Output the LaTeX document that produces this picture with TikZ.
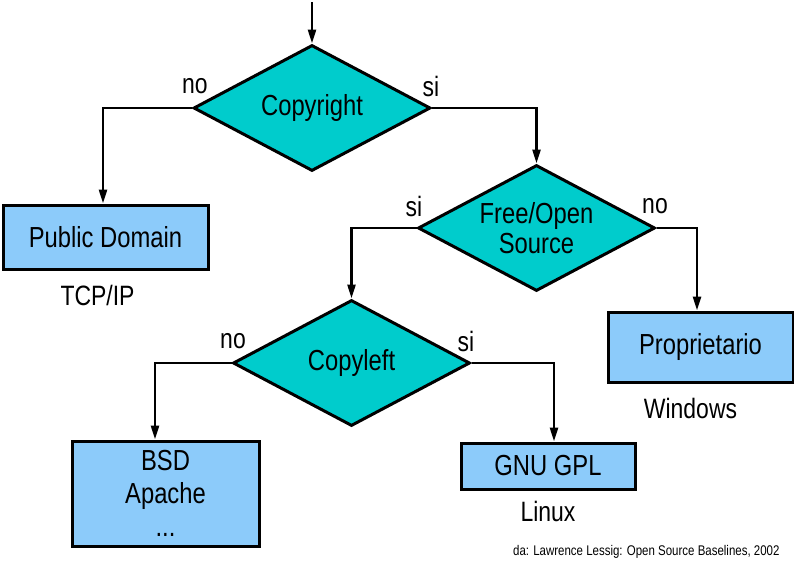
\documentclass[tikz,border=0pt]{standalone}
\usepackage{fontspec}
\setmainfont{Liberation Sans}[FakeStretch=0.82]
\usetikzlibrary{arrows.meta,positioning,shapes.geometric}
\definecolor{DecisionCyan}{HTML}{00CCCC}
\definecolor{LicenceBlue}{HTML}{8CCBFA}

\begin{document}
\begin{tikzpicture}[x=1pt,y=-1pt,
        every node/.style={font=\fontsize{28}{30}\selectfont},
        choice/.style={diamond,draw,fill=DecisionCyan,line width=3pt,inner sep=0pt,minimum width=237pt,minimum height=126pt,aspect=1.88,align=center,font=\fontsize{29}{30}\selectfont},
        licence/.style={draw,fill=LicenceBlue,line width=3pt,inner sep=0pt,align=center,font=\fontsize{29}{33}\selectfont},
        branch/.style={-{Triangle[length=14pt,width=8pt]},line width=2.5pt}
      ]
        \useasboundingbox (0,0) rectangle (794,565);
        % decisions
        \node[choice] (copyright) at (312,108) {Copyright};
        \node[choice] (freeopen) at (536.5,228) {Free/Open\\Source};
        \node[choice] (copyleft) at (351.5,363) {Copyleft};
        % licences
        \node[licence,minimum width=205pt,minimum height=64pt] (public) at (105.5,237) {Public Domain};
        \node[licence,minimum width=185pt,minimum height=70pt] (propr) at (700.5,347) {Proprietario};
        \node[licence,minimum width=187pt,minimum height=105pt] (bsd) at (165.5,493.5) {BSD\\Apache\\...};
        \node[licence,minimum width=174pt,minimum height=46pt] (gpl) at (548,466) {GNU GPL};
        % examples
        \node[below=11pt of public,xshift=-8pt] (tcpip) {TCP/IP};
        \node[below=11pt of propr,xshift=-10pt] (windows) {Windows};
        \node[below=7pt of gpl] (linux) {Linux};
        \node[anchor=east,font=\fontsize{14}{16}\selectfont] (source) at (783,552) {da: Lawrence Lessig: Open Source Baselines, 2002};
        % answers
        \node (cpno) at (195,86) {no};
        \node (cpsi) at (431,86) {si};
        \node (fosi) at (414,206) {si};
        \node (fono) at (655,206) {no};
        \node (clno) at (233,341) {no};
        \node (clsi) at (466,341) {si};
        \coordinate (start) at (312,2);
        \draw[branch] (start) -- (copyright.north);
        \draw[branch] (copyright.west) -| ([xshift=-2.5pt]public.north);
        \draw[branch] (copyright.east) -| (freeopen.north);
        \draw[branch] (freeopen.east) -| ([xshift=-3.5pt]propr.north);
        \draw[branch] (freeopen.west) -| (copyleft.north);
        \draw[branch] (copyleft.west) -| ([xshift=-10.5pt]bsd.north);
        \draw[branch] (copyleft.east) -| ([xshift=6pt]gpl.north);
      \end{tikzpicture}
\end{document}
